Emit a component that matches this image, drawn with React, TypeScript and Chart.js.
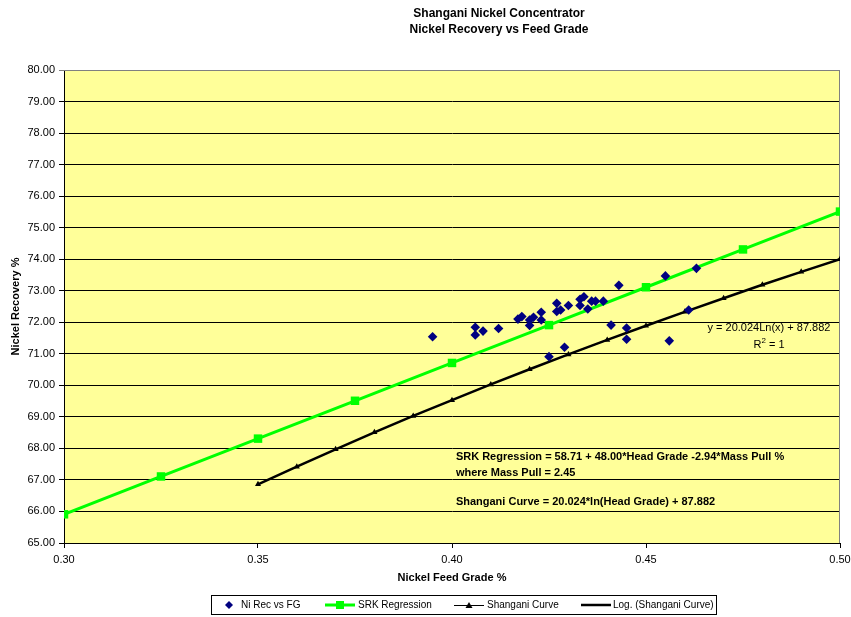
import React, { useEffect, useRef } from "react";
import { Chart, registerables } from "chart.js";

Chart.register(...registerables);

const FONT = '"Liberation Sans", Arial, Helvetica, sans-serif';

// Ni Rec vs FG (scatter)
const feedGrade = [
  0.395, 0.406, 0.406, 0.408, 0.412, 0.417, 0.418, 0.420, 0.420, 0.421, 0.423,
  0.423, 0.425, 0.427, 0.427, 0.428, 0.429, 0.430, 0.433, 0.433, 0.434, 0.435,
  0.436, 0.437, 0.439, 0.441, 0.443, 0.445, 0.445, 0.455, 0.456, 0.461, 0.463,
];
const niRecovery = [
  71.54, 71.84, 71.60, 71.72, 71.80, 72.10, 72.18, 72.07, 71.90, 72.16, 72.32,
  72.07, 70.91, 72.60, 72.34, 72.39, 71.21, 72.53, 72.73, 72.53, 72.81, 72.42,
  72.67, 72.67, 72.67, 71.91, 73.17, 71.82, 71.46, 73.47, 71.41, 72.39, 73.71,
];

// SRK Regression
const srkGrade = [0.3, 0.325, 0.35, 0.375, 0.4, 0.425, 0.45, 0.475, 0.5];
const srkRecovery = [65.91, 67.11, 68.31, 69.51, 70.71, 71.91, 73.11, 74.31, 75.51];

// Shangani Curve
const shanganiGrade = [
  0.35, 0.36, 0.37, 0.38, 0.39, 0.4, 0.41, 0.42, 0.43, 0.44, 0.45, 0.46, 0.47,
  0.48, 0.49, 0.5,
];
const shanganiRecovery = [
  66.86, 67.42, 67.97, 68.51, 69.03, 69.53, 70.03, 70.51, 70.98, 71.44, 71.89,
  72.33, 72.76, 73.19, 73.6, 74.0,
];

const titleLines = ["Shangani Nickel Concentrator", "Nickel Recovery vs Feed Grade"];
const xTitle = "Nickel Feed Grade %";
const yTitle = "Nickel Recovery %";
const legendLabels = ["Ni Rec vs FG", "SRK Regression", "Shangani Curve", "Log. (Shangani Curve)"];
const srkNote = [
  "SRK Regression = 58.71 + 48.00*Head Grade -2.94*Mass Pull %",
  "where Mass Pull = 2.45",
];
const curveNote = "Shangani Curve = 20.024*ln(Head Grade) + 87.882";
const trendNote = "y = 20.024Ln(x) + 87.882";

const NAVY = "#000080";
const GREEN = "#00FF00";
const PLOT_BG = "#FFFF99";

function pts(xs: number[], ys: number[]) {
  return xs.map((x, i) => ({ x, y: ys[i] }));
}

function drawDiamond(ctx: CanvasRenderingContext2D, x: number, y: number, r: number) {
  ctx.beginPath();
  ctx.moveTo(x - r, y);
  ctx.lineTo(x, y - r);
  ctx.lineTo(x + r, y);
  ctx.lineTo(x, y + r);
  ctx.closePath();
  ctx.fill();
}

const decor = {
  id: "decor",
  beforeDraw(chart: any) {
    const { ctx, chartArea: a } = chart;
    ctx.save();
    ctx.fillStyle = "#ffffff";
    ctx.fillRect(0, 0, chart.width, chart.height);
    ctx.fillStyle = PLOT_BG;
    ctx.fillRect(a.left, a.top, a.right - a.left, a.bottom - a.top);
    ctx.restore();
  },
  beforeDatasetsDraw(chart: any) {
    const { ctx, chartArea: a } = chart;
    ctx.save();
    ctx.strokeStyle = "#808080";
    ctx.lineWidth = 1;
    ctx.beginPath();
    ctx.moveTo(Math.round(a.left), Math.round(a.top) + 0.5);
    ctx.lineTo(Math.round(a.right), Math.round(a.top) + 0.5);
    ctx.moveTo(Math.round(a.right) - 0.5, Math.round(a.top));
    ctx.lineTo(Math.round(a.right) - 0.5, Math.round(a.bottom));
    ctx.stroke();
    ctx.restore();
  },
  afterDraw(chart: any) {
    const { ctx, chartArea: a, scales } = chart;
    const xs = scales.x;
    const ys = scales.y;
    ctx.save();
    ctx.fillStyle = "#000";
    ctx.textBaseline = "middle";

    // Title
    ctx.font = `bold 12px ${FONT}`;
    ctx.textAlign = "center";
    ctx.fillText(titleLines[0], 499, 14);
    ctx.fillText(titleLines[1], 499, 30);

    // Axis titles
    ctx.font = `bold 11px ${FONT}`;
    ctx.fillText(xTitle, (a.left + a.right) / 2, 578);
    ctx.save();
    ctx.translate(16, (a.top + a.bottom) / 2);
    ctx.rotate(-Math.PI / 2);
    ctx.fillText(yTitle, 0, 0);
    ctx.restore();

    // Annotations
    ctx.textAlign = "left";
    ctx.font = `bold 11px ${FONT}`;
    const nx = xs.getPixelForValue(0.401);
    ctx.fillText(srkNote[0], nx, ys.getPixelForValue(67.73));
    ctx.fillText(srkNote[1], nx, ys.getPixelForValue(67.23));
    ctx.fillText(curveNote, nx, ys.getPixelForValue(66.31));

    ctx.font = `11px ${FONT}`;
    ctx.textAlign = "center";
    const tx = xs.getPixelForValue(0.4817);
    ctx.fillText(trendNote, tx, ys.getPixelForValue(71.81));
    const ry = ys.getPixelForValue(71.28);
    ctx.textAlign = "left";
    const rw = ctx.measureText("R").width;
    const eqw = ctx.measureText(" = 1").width;
    ctx.font = `8px ${FONT}`;
    const sw = ctx.measureText("2").width;
    const total = rw + sw + eqw;
    let cx = tx - total / 2;
    ctx.font = `11px ${FONT}`;
    ctx.fillText("R", cx, ry);
    cx += rw;
    ctx.font = `8px ${FONT}`;
    ctx.fillText("2", cx, ry - 4);
    cx += sw;
    ctx.font = `11px ${FONT}`;
    ctx.fillText(" = 1", cx, ry);

    // Legend (layout positions of the boxed legend)
    const lx = 211, ly = 595, lw = 505, lh = 19;
    const cy = ly + lh / 2 + 0.5;
    const sampleStart = [null, 325, 454, 581];
    const textStart = [241, 358, 487, 613];
    const sample = 30;
    ctx.strokeStyle = "#000";
    ctx.lineWidth = 1;
    ctx.strokeRect(lx + 0.5, ly + 0.5, lw, lh);
    ctx.font = `10px ${FONT}`;
    ctx.textAlign = "left";
    legendLabels.forEach((label, i) => {
      const px = sampleStart[i] as number;
      const mid = px + sample / 2;
      if (i === 0) {
        ctx.fillStyle = NAVY;
        drawDiamond(ctx, 229, cy, 4);
      } else if (i === 1) {
        ctx.strokeStyle = GREEN;
        ctx.lineWidth = 3;
        ctx.beginPath();
        ctx.moveTo(px, cy);
        ctx.lineTo(px + sample, cy);
        ctx.stroke();
        ctx.fillStyle = GREEN;
        ctx.fillRect(mid - 4, cy - 4, 8, 8);
      } else if (i === 2) {
        ctx.strokeStyle = "#000";
        ctx.lineWidth = 1;
        ctx.beginPath();
        ctx.moveTo(px, Math.round(cy) + 0.5);
        ctx.lineTo(px + sample, Math.round(cy) + 0.5);
        ctx.stroke();
        ctx.fillStyle = "#000";
        ctx.beginPath();
        ctx.moveTo(mid, cy - 3);
        ctx.lineTo(mid + 3.5, cy + 3);
        ctx.lineTo(mid - 3.5, cy + 3);
        ctx.closePath();
        ctx.fill();
      } else {
        ctx.strokeStyle = "#000";
        ctx.lineWidth = 2.5;
        ctx.beginPath();
        ctx.moveTo(px, cy);
        ctx.lineTo(px + sample, cy);
        ctx.stroke();
      }
      ctx.fillStyle = "#000";
      ctx.fillText(label, textStart[i], cy + 0.5);
    });

    ctx.restore();
  },
};

export default function App() {
  const ref = useRef<HTMLCanvasElement | null>(null);

  useEffect(() => {
    if (!ref.current) return;
    const chart = new Chart(ref.current, {
      type: "scatter",
      data: {
        datasets: [
          {
            label: legendLabels[0],
            data: pts(feedGrade, niRecovery),
            showLine: false,
            pointStyle: "rectRot",
            pointRadius: 4.8,
            backgroundColor: NAVY,
            borderColor: NAVY,
            borderWidth: 0,
          },
          {
            label: legendLabels[1],
            data: pts(srkGrade, srkRecovery),
            showLine: true,
            borderColor: GREEN,
            borderWidth: 3,
            backgroundColor: GREEN,
            pointStyle: "rect",
            pointRadius: 6,
            pointBorderWidth: 0,
          },
          {
            label: legendLabels[2],
            data: pts(shanganiGrade, shanganiRecovery),
            showLine: true,
            borderColor: "#000",
            borderWidth: 1,
            backgroundColor: "#000",
            pointStyle: "triangle",
            pointRadius: 3.5,
            pointBorderWidth: 0,
          },
          {
            label: legendLabels[3],
            data: pts(shanganiGrade, shanganiRecovery),
            showLine: true,
            borderColor: "#000",
            borderWidth: 2.5,
            pointRadius: 0,
          },
        ],
      },
      options: {
        responsive: false,
        animation: false,
        events: [],
        layout: { padding: { left: 0, top: 70, right: 11, bottom: 0 } },
        plugins: {
          legend: { display: false },
          title: { display: false },
          tooltip: { enabled: false },
        },
        scales: {
          x: {
            type: "linear",
            min: 0.3,
            max: 0.5,
            ticks: {
              stepSize: 0.05,
              color: "#000",
              font: { family: FONT, size: 11 },
              padding: 5,
              maxRotation: 0,
              callback: (v: any) => Number(v).toFixed(2),
            },
            grid: {
              drawOnChartArea: false,
              drawTicks: true,
              tickLength: 5,
              color: "#000",
            },
            border: { display: true, color: "#000", width: 1 },
            afterFit: (s: any) => {
              s.height = 74;
              s.paddingLeft = 0;
              s.paddingRight = 0;
            },
          },
          y: {
            type: "linear",
            min: 65,
            max: 80,
            ticks: {
              stepSize: 1,
              color: "#000",
              font: { family: FONT, size: 11 },
              padding: 4,
              callback: (v: any) => Number(v).toFixed(2),
            },
            grid: {
              drawOnChartArea: true,
              drawTicks: true,
              tickLength: 5,
              color: (c: any) => (c.tick && c.tick.value === 80 ? "#808080" : "#000"),
              lineWidth: 1,
            },
            border: { display: true, color: "#000", width: 1 },
            afterFit: (s: any) => {
              s.width = 64;
              s.paddingTop = 0;
              s.paddingBottom = 0;
            },
          },
        },
      },
      plugins: [decor],
    });
    return () => chart.destroy();
  }, []);

  return (
    <div style={{ position: "absolute", left: 0, top: 0, width: 851, height: 617, background: "#fff" }}>
      <canvas ref={ref} width={851} height={617} style={{ display: "block" }} />
    </div>
  );
}
